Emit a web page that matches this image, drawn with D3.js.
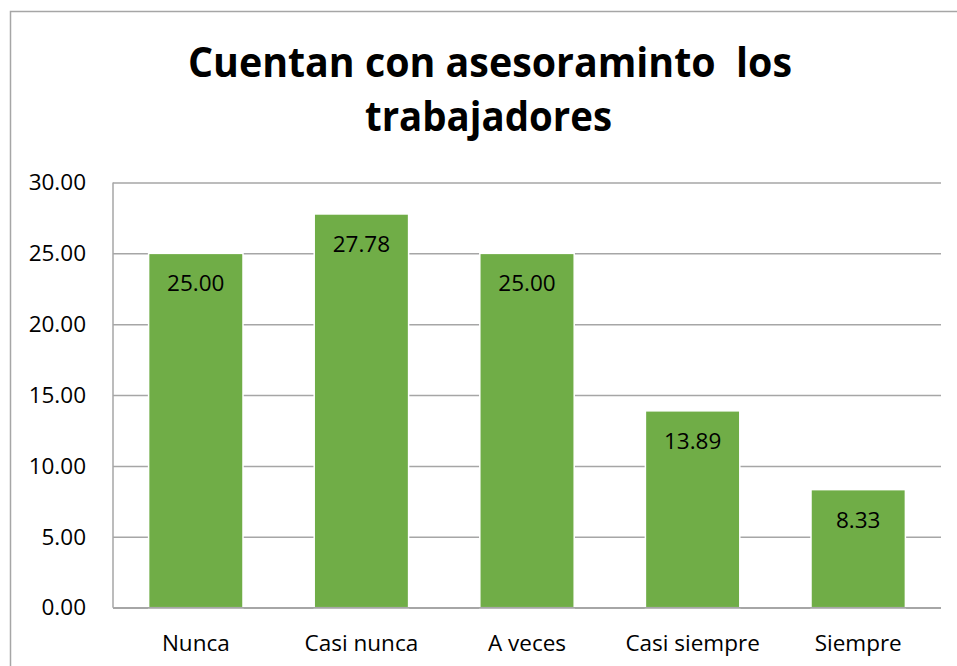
<!DOCTYPE html>
<html>
<head>
<meta charset="utf-8">
<script src="https://cdn.jsdelivr.net/npm/d3@7"></script>
<style>
  html, body { margin: 0; padding: 0; background: #fff; }
  svg { display: block; font-family: "Open Sans", sans-serif; }
</style>
</head>
<body>
<div id="chart"></div>
<script>
// chart data
var categories = ["Nunca", "Casi nunca", "A veces", "Casi siempre", "Siempre"];
var values = [25.00, 27.78, 25.00, 13.89, 8.33];
var yTicks = [0, 5, 10, 15, 20, 25, 30];
var titleLines = ["Cuentan con asesoraminto  los", "trabajadores"];

var width = 957, height = 666;
var margin = { top: 182.5, right: 16, bottom: 58.3, left: 113 };

var svg = d3.select("#chart").append("svg")
    .attr("width", width)
    .attr("height", height);

// outer chart border (runs off the right / bottom edge)
svg.append("rect")
    .attr("x", 10.5).attr("y", 11.5)
    .attr("width", 980).attr("height", 700)
    .attr("fill", "none")
    .attr("stroke", "#a6a6a6")
    .attr("stroke-width", 1.5);

// title (keep the double space of the original)
var title = svg.append("text")
    .attr("text-anchor", "middle")
    .style("font-weight", "bold")
    .style("font-size", "41px")
    .style("white-space", "pre")
    .attr("xml:space", "preserve")
    .attr("fill", "#000");
title.append("tspan").attr("x", 490).attr("y", 77)
    .attr("textLength", 604).attr("lengthAdjust", "spacingAndGlyphs")
    .text(titleLines[0]);
title.append("tspan").attr("x", 488.5).attr("y", 131)
    .attr("textLength", 247).attr("lengthAdjust", "spacingAndGlyphs")
    .text(titleLines[1]);

var xScale = d3.scaleBand()
    .domain(categories)
    .range([margin.left, width - margin.right])
    .paddingInner(0.43)
    .paddingOuter(0.215);

var yScale = d3.scaleLinear()
    .domain([0, 30])
    .range([height - margin.bottom, margin.top]);

// gridlines
var yAxis = d3.axisLeft(yScale)
    .tickValues(yTicks)
    .tickSize(-(width - margin.right - margin.left))
    .tickFormat(d3.format(".2f"))
    .tickPadding(27);

var gy = svg.append("g")
    .attr("transform", `translate(${margin.left},0)`)
    .call(yAxis);
gy.select(".domain").remove();
gy.selectAll(".tick line")
    .attr("stroke", "#a6a6a6")
    .attr("stroke-width", 1.5);
gy.selectAll(".tick text")
    .attr("fill", "#000")
    .style("font-size", "22.5px")
    .style("font-family", "'Open Sans', sans-serif");

// left value axis line
svg.append("line")
    .attr("x1", margin.left).attr("x2", margin.left)
    .attr("y1", yScale(30)).attr("y2", yScale(0))
    .attr("stroke", "#a6a6a6")
    .attr("stroke-width", 1.5);

// bars
svg.selectAll(".bar")
    .data(values)
    .enter().append("rect")
    .attr("class", "bar")
    .attr("x", (d, i) => xScale(categories[i]))
    .attr("y", d => yScale(d))
    .attr("width", xScale.bandwidth())
    .attr("height", d => yScale(0) - yScale(d))
    .attr("fill", "#70ad47")
    .attr("stroke", "#ffffff")
    .attr("stroke-width", 1.5);

// bottom axis line
svg.append("line")
    .attr("x1", margin.left).attr("x2", width - margin.right)
    .attr("y1", yScale(0)).attr("y2", yScale(0))
    .attr("stroke", "#a6a6a6")
    .attr("stroke-width", 1.5);

// data labels inside the bar tops
svg.selectAll(".label")
    .data(values)
    .enter().append("text")
    .attr("class", "label")
    .attr("x", (d, i) => xScale(categories[i]) + xScale.bandwidth() / 2)
    .attr("y", d => yScale(d) + 38)
    .attr("text-anchor", "middle")
    .style("font-size", "22.5px")
    .attr("fill", "#000")
    .text(d => d3.format(".2f")(d));

// category labels
var xAxis = d3.axisBottom(xScale).tickSize(0).tickPadding(0);
var gx = svg.append("g")
    .attr("transform", `translate(0,${yScale(0)})`)
    .call(xAxis);
gx.select(".domain").remove();
gx.selectAll(".tick text")
    .attr("dy", null)
    .attr("y", 43)
    .attr("fill", "#000")
    .style("font-size", "22.5px")
    .style("font-family", "'Open Sans', sans-serif");
</script>
</body>
</html>
